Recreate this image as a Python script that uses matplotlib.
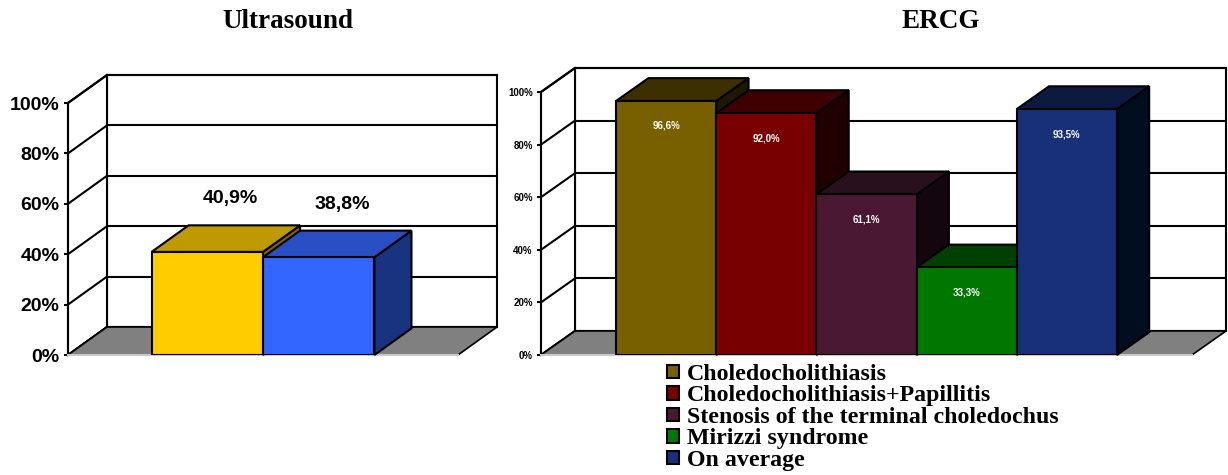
import numpy as np
import matplotlib.pyplot as plt
from matplotlib.patches import Polygon, Patch

# data
us_values = [40.9, 38.8]
ercg_series = ['Choledocholithiasis', 'Choledocholithiasis+Papillitis',
               'Stenosis of the terminal choledochus', 'Mirizzi syndrome',
               'On average']
ercg_values = [96.6, 92.0, 61.1, 33.3, 93.5]
y_ticks = [0, 20, 40, 60, 80, 100]

# styles
us_front = ['#ffcc00', '#3366ff']
us_top = ['#bf9900', '#2a4fc4']
us_side = ['#806600', '#1a3380']
ercg_front = ['#786000', '#780000', '#4a1832', '#007800', '#183078']
ercg_top = ['#3c3000', '#3e0000', '#28101c', '#004000', '#0c1a40']
ercg_side = ['#1e1800', '#200000', '#14060e', '#002000', '#000e20']

W, H = 1228, 475
SANS = 'Liberation Sans'
SERIF = 'Liberation Serif'

fig = plt.figure(figsize=(W / 100, H / 100), dpi=100)


def px_axes(x0, x1, ytop, ybot):
    return fig.add_axes([x0 / W, 1 - ybot / H, (x1 - x0) / W, (ybot - ytop) / H])


def pct(v):
    return f'{v:.1f}%'.replace('.', ',')


def draw_3d(ax, wpx, hpx, values, fronts, tops, sides, dx_px, dy_px, tick_fs):
    ax.set_xlim(0, 1)
    ax.set_ylim(0, 100)
    ax.set_facecolor('none')
    ddx = dx_px / wpx
    ddy = dy_px / hpx * 100

    # walls
    ax.add_patch(Polygon([(ddx, ddy), (1 + ddx, ddy), (1 + ddx, 100 + ddy), (ddx, 100 + ddy)],
                         fc='white', ec='black', lw=1.5, clip_on=False, zorder=0.5))
    ax.add_patch(Polygon([(0, 0), (ddx, ddy), (ddx, 100 + ddy), (0, 100)],
                         fc='white', ec='black', lw=1.5, clip_on=False, zorder=0.5))
    for t in y_ticks:
        ax.plot([ddx, 1 + ddx], [t + ddy, t + ddy], color='black', lw=1.5, clip_on=False, zorder=1)
        ax.plot([0, ddx], [t, t + ddy], color='black', lw=1.5, clip_on=False, zorder=1)

    # floor
    ax.add_patch(Polygon([(0, 0), (1, 0), (1 + ddx, ddy), (ddx, ddy)],
                         fc='#808080', ec='black', lw=1.2, clip_on=False, zorder=1.5))

    n = len(values)
    gap = 1.5
    w = 1 / (n + gap)
    xs = gap / 2 * w + w * np.arange(n)
    bars = ax.bar(xs, values, width=w, align='edge', color=fronts,
                  edgecolor='black', lw=1.5)
    bx, by = ddx * 0.95, ddy * 0.95
    for i, (rect, v) in enumerate(zip(bars, values)):
        z = 3 + i
        rect.set_zorder(z + 0.5)
        a, b = xs[i], xs[i] + w
        ax.add_patch(Polygon([(b, 0), (b, v), (b + bx, v + by), (b + bx, by)],
                             fc=sides[i], ec='black', lw=1.5, clip_on=False, zorder=z))
        ax.add_patch(Polygon([(a, v), (b, v), (b + bx, v + by), (a + bx, v + by)],
                             fc=tops[i], ec='black', lw=1.5, clip_on=False, zorder=z))

    for s in ['top', 'right']:
        ax.spines[s].set_visible(False)
    ax.spines['left'].set_linewidth(1.5)
    ax.spines['left'].set_zorder(2)
    ax.spines['bottom'].set_color('#c8c8c8')
    ax.spines['bottom'].set_linewidth(1.5)
    ax.spines['bottom'].set_zorder(2)
    ax.set_xticks([])
    ax.set_yticks(y_ticks)
    ax.set_yticklabels([f'{t}%' for t in y_ticks], fontsize=tick_fs,
                       fontweight='bold', family=SANS)
    ax.tick_params(axis='y', direction='out', length=3, width=1.5, pad=3)
    return xs, w, ddx, ddy


# Ultrasound
ax1 = px_axes(68, 458, 103, 355)
xs, w, ddx, ddy = draw_3d(ax1, 390, 252, us_values, us_front, us_top, us_side, 39, 28, 14)
for x, v in zip(xs, us_values):
    ax1.text(x + w / 2 + 0.6 * ddx, v + ddy + 10, pct(v), ha='center', va='center',
             fontsize=14, fontweight='bold', family=SANS, zorder=20)

# ERCG
ax2 = px_axes(541, 1192, 92, 355)
xs, w, ddx, ddy = draw_3d(ax2, 651, 263, ercg_values, ercg_front, ercg_top, ercg_side, 34, 24, 7)
for x, v in zip(xs, ercg_values):
    ax2.text(x + w / 2, v - 9.5, pct(v), ha='center', va='center', color='white',
             fontsize=7, fontweight='bold', family=SANS, zorder=20)

fig.text(288 / W, 1 - 22 / H, 'Ultrasound', ha='center', va='center',
         fontsize=19.5, fontweight='bold', family=SERIF)
fig.text(941 / W, 1 - 22 / H, 'ERCG', ha='center', va='center',
         fontsize=19.5, fontweight='bold', family=SERIF)

handles = [Patch(facecolor=c, edgecolor='black', lw=1.5) for c in ercg_front]
fig.legend(handles, ercg_series, loc='upper left', bbox_to_anchor=(667 / W, 1 - 364 / H),
           frameon=False, prop=dict(family=SERIF, weight='bold', size=17.2),
           handlelength=0.5, handleheight=0.5, handletextpad=0.33,
           labelspacing=0.02, borderpad=0, borderaxespad=0)

fig.savefig('out.png', dpi=100)
